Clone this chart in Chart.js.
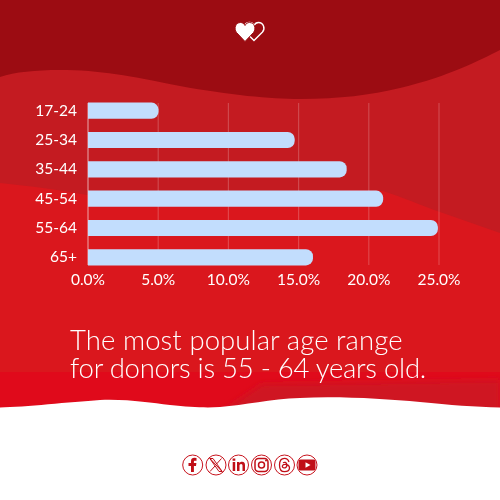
<!DOCTYPE html>
<html><head><meta charset="utf-8">
<script src="https://cdn.jsdelivr.net/npm/chart.js@4"></script>
<style>
html,body{margin:0;padding:0;width:500px;height:500px;overflow:hidden;background:#fff}
#bg,#c,#cap{position:absolute;left:0;top:0}
#cap{left:70px;top:326px;color:#fff;font:300 27.5px/28px Lato,sans-serif;white-space:nowrap}
#cap span{display:block}
</style></head><body>
<svg id="bg" width="500" height="500" viewBox="0 0 500 500">
<defs><filter id="b" x="-10%" y="-30%" width="120%" height="160%"><feGaussianBlur stdDeviation="3"/></filter><clipPath id="low"><rect x="0" y="372" width="500" height="40"/></clipPath></defs>
<rect width="500" height="412" fill="#da171d"/>
<path d="M0 0H500V233L440 212C420 205 405 198 383 191C350 188 300 192 200 197C150 198 110 198 87 195C60 190 30 186 0 183Z" fill="#c41b21"/>
<path d="M0 0H500V50C480 60 450 76 400 88C370 95 340 99 300 99C270 99 230 95 180 86C130 76 100 70 60 70C35 70 15 72 0 77Z" fill="#9c0c12"/>
<rect x="0" y="372" width="500" height="40" fill="#e00a1b"/>
<g clip-path="url(#low)"><path d="M215 416L262 384L500 380V416Z" fill="#cf1224" filter="url(#b)"/></g>
<path d="M0 407.500C25 407 70 402 100 400C130 399 150 403 170 405C190 407 205 408 220 407C245 405 270 399 300 398C340 396 385 399 420 402C450 405 475 407 500 407.500V500H0Z" fill="#fff"/>
<path transform="translate(244 22)" d="M10 18.500L1.500 10C-1.500 6.500 .5 .5 5.500 .5C7.500 .5 9 1.500 10 3.500C11 1.500 12.500 .5 14.500 .5C19.500 .5 21.500 6.500 18.500 10Z" fill="none" stroke="#fff" stroke-width="1.400"/>
<path transform="translate(235 22)" d="M10 19.500L1.500 10.500C-1.500 6.500 .5 .5 5.500 .5C7.500 .5 9 1.500 10 3.500C11 1.500 12.500 .5 14.500 .5C19.500 .5 21.500 6.500 18.500 10.500Z" fill="#fff" stroke="#9c0c12" stroke-width="1"/>
<g fill="none" stroke="#c8141e" stroke-width="1">
<circle cx="192.700" cy="465" r="10"/><circle cx="216" cy="465" r="10"/><circle cx="238.500" cy="465" r="10"/><circle cx="261.500" cy="465" r="10"/><circle cx="284.500" cy="465" r="10"/><circle cx="307" cy="465" r="10"/>
</g>
<g fill="#c00f18">
<path d="M191 472V466H188.500V463H191V461C191 458.800 192.500 457.800 194.300 457.800L196.500 458V460.700H195C194 460.700 193.900 461.200 193.900 461.900V463H196.400L196 466H193.900V472Z"/>
<path d="M232.700 462H235.200V471H232.700ZM232.600 458.500H235.300V460.700H232.600ZM237 462H239.400V463.200C240 462.300 241 461.800 242.200 461.800C244.300 461.800 245 463.200 245 465.200V471H242.500V465.800C242.500 464.700 242.100 464 241.100 464C240 464 239.500 464.800 239.500 465.800V471H237Z"/>
<path fill-rule="evenodd" d="M300.500 459.500H313.500C314.800 459.500 315.500 460.300 315.500 461.500V468.500C315.500 469.700 314.800 470.500 313.500 470.500H300.500C299.200 470.500 298.500 469.700 298.500 468.500V461.500C298.500 460.300 299.200 459.500 300.500 459.500ZM305.500 462.200V467.800L310.500 465Z"/>
</g>
<g fill="none" stroke="#c00f18">
<path d="M210 458.500L222 471.500M213 458.500H209.800L219 471.500H222.200ZM221.500 458.500L216.500 464M215 466L210 471.500" stroke-width="1"/>
<rect x="255" y="458.500" width="13" height="13" rx="3.500" stroke-width="1.500"/><circle cx="261.500" cy="465" r="3" stroke-width="1.500"/>
<path d="M289 462C288 459 286 458.300 284.500 458.300C281 458.300 279.500 461 279.500 465C279.500 469 281 471.700 284.500 471.700C287.500 471.700 289.500 470 289.500 467.800C289.500 465.500 287 464.200 284.800 464.400C283 464.500 282.200 465.500 282.400 466.600C282.600 467.700 284 468.200 285.200 467.800C286.500 467.300 287 465.800 286.800 464.300C286.500 462.500 284.600 461.700 283 462.800" stroke-width="1.300"/>
</g>
<circle cx="266" cy="460.500" r="1" fill="#c00f18"/>
</svg>
<canvas id="c" width="500" height="500" style="width:500px;height:500px"></canvas>
<div id="cap"><span style="letter-spacing:.08px">The most popular age range</span><span style="letter-spacing:-.26px">for donors is 55 - 64 years old.</span></div>
<script>
const categories = ["17-24","25-34","35-44","45-54","55-64","65+"];
const donorShare = [5.0,14.7,18.4,21.0,24.9,16.0];
const xTicks = [0,5,10,15,20,25];
const FONT = "Lato";
const gridPlugin = {
  id:"grid",
  beforeDatasetsDraw(ch){
    const {ctx,scales:{x,y}} = ch;
    const half = 7.75;
    const top = y.getPixelForValue(0)-half, bottom = y.getPixelForValue(categories.length-1)+half;
    ctx.save();
    xTicks.forEach((t,i)=>{
      const p = x.getPixelForValue(t);
      ctx.strokeStyle = i===0 ? "rgba(255,255,255,0.45)" : "rgba(255,255,255,0.2)";
      ctx.lineWidth = i===0 ? 1.4 : 1.2;
      ctx.beginPath();ctx.moveTo(p,top);ctx.lineTo(p,bottom);ctx.stroke();
    });
    ctx.restore();
  }
};
new Chart(document.getElementById("c"),{
  type:"bar",
  data:{labels:categories,datasets:[{data:donorShare,backgroundColor:"#c2ddfd",barThickness:15.5,borderSkipped:false,
    borderRadius:{topRight:7,bottomRight:7,topLeft:0,bottomLeft:0}}]},
  plugins:[gridPlugin],
  options:{
    indexAxis:"y",responsive:false,animation:false,devicePixelRatio:1,
    layout:{padding:{top:96,right:61,left:0,bottom:0}},
    plugins:{legend:{display:false},tooltip:{enabled:false}},
    scales:{
      x:{min:0,max:25,grid:{display:false,drawTicks:false},border:{display:false},
        afterFit(s){s.height=228},
        afterBuildTicks(s){s.ticks=xTicks.map(v=>({value:v}))},
        ticks:{color:"#fff",font:{family:FONT,size:15.5,weight:"400"},padding:-1,maxRotation:0,callback:v=>v.toFixed(1)+"%"}},
      y:{grid:{display:false,drawTicks:false},border:{display:false},
        afterFit(s){s.width=88},
        ticks:{color:"#fff",font:{family:FONT,size:15.5,weight:"400"},padding:11}}
    }
  }
});
</script>
</body></html>
